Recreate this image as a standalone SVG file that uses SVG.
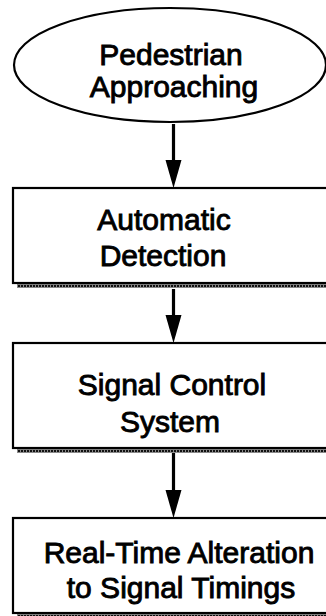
<svg xmlns="http://www.w3.org/2000/svg" width="326" height="616" viewBox="0 0 326 616">
  <defs>
    <pattern id="dots" x="0" y="0" width="3" height="3" patternUnits="userSpaceOnUse">
      <rect width="3" height="3" fill="#8a8a8a"/>
      <rect width="2" height="2" fill="#111"/>
    </pattern>
  </defs>
  <style>
    .shape { fill: #fff; stroke: #000; stroke-width: 2.2; }
    .shadow { fill: url(#dots); }
    .label { font-family: "Liberation Sans", Arial, sans-serif; font-size: 30px; fill: #000; stroke: #000; stroke-width: 0.9; text-anchor: middle; }
    .line { stroke: #000; stroke-width: 3.2; fill: none; }
    .head { fill: #000; }
  </style>
  <rect width="326" height="616" fill="#fff"/>

  <g id="connectors">
    <line class="line" x1="173.5" y1="124" x2="173.5" y2="162"/>
    <polygon class="head" points="165.5,160 181.5,160 173.5,188"/>
    <line class="line" x1="173.5" y1="289" x2="173.5" y2="317"/>
    <polygon class="head" points="165.5,315 181.5,315 173.5,343"/>
    <line class="line" x1="173.5" y1="452" x2="173.5" y2="492"/>
    <polygon class="head" points="165.5,490 181.5,490 173.5,518"/>
  </g>

  <g id="pedestrian-approaching">
    <ellipse class="shape" cx="170" cy="65" rx="156" ry="57"/>
    <text class="label" x="171" y="65">Pedestrian</text>
    <text class="label" x="174" y="97">Approaching</text>
  </g>

  <g id="automatic-detection">
    <rect class="shadow" x="17" y="284" width="320" height="4"/>
    <rect class="shape" x="13" y="188" width="330" height="95"/>
    <text class="label" x="164" y="230">Automatic</text>
    <text class="label" x="163" y="266">Detection</text>
  </g>

  <g id="signal-control-system">
    <rect class="shadow" x="17" y="449" width="320" height="4"/>
    <rect class="shape" x="13" y="343" width="330" height="105"/>
    <text class="label" x="172" y="395">Signal Control</text>
    <text class="label" x="170" y="432">System</text>
  </g>

  <g id="real-time-alteration">
    <rect class="shadow" x="17" y="613" width="320" height="3"/>
    <rect class="shape" x="13" y="518" width="330" height="95"/>
    <text class="label" x="179" y="563">Real-Time Alteration</text>
    <text class="label" x="181" y="598">to Signal Timings</text>
  </g>
</svg>
